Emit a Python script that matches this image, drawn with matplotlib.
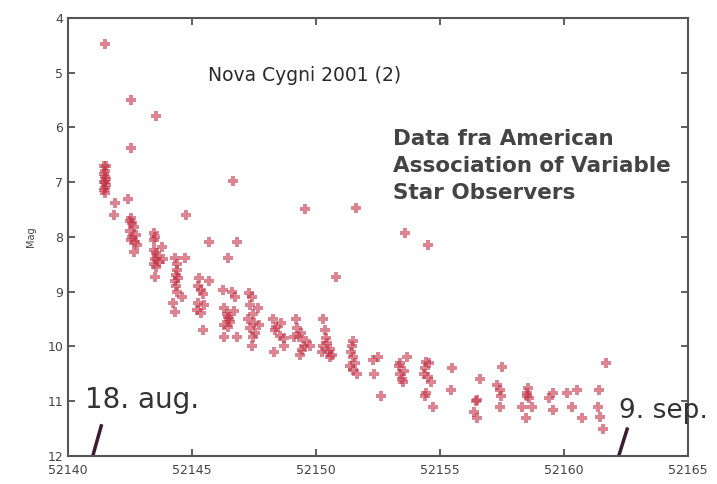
import numpy as np
import matplotlib.pyplot as plt

# Julian dates and visual magnitudes, night by night
jd = [52141.50, 52141.45, 52141.55, 52141.50, 52141.45, 52141.50, 52141.55, 52141.50, 52141.45, 52141.55, 52141.50, 52141.45, 52141.50,
      52141.90, 52141.85, 52142.40, 52142.55, 52142.55,
      52142.55, 52142.60, 52142.65, 52142.50, 52142.75, 52142.60, 52142.55, 52142.70, 52142.80, 52142.65, 52142.50,
      52143.55, 52143.45, 52143.50, 52143.45, 52143.80, 52143.45, 52143.55, 52143.60, 52143.50, 52143.65, 52143.45, 52143.55, 52143.50, 52143.85,
      52144.75, 52144.30, 52144.40, 52144.40, 52144.35, 52144.45, 52144.30, 52144.35, 52144.40, 52144.60, 52144.25, 52144.30, 52144.70,
      52145.70, 52145.30, 52145.70, 52145.25, 52145.35, 52145.45, 52145.25, 52145.50, 52145.20, 52145.35, 52145.45,
      52146.65, 52146.80, 52146.45, 52146.25, 52146.60, 52146.75, 52146.30, 52146.70, 52146.40, 52146.45, 52146.50, 52146.55, 52146.30, 52146.45, 52146.30, 52146.80,
      52147.30, 52147.40, 52147.35, 52147.65, 52147.45, 52147.25, 52147.50, 52147.70, 52147.35, 52147.55, 52147.45, 52147.40,
      52148.25, 52148.60, 52148.40, 52148.35, 52148.55, 52148.70, 52148.70, 52148.30,
      52149.55, 52149.20, 52149.25, 52149.40, 52149.30, 52149.60, 52149.50, 52149.45, 52149.35, 52149.10, 52149.75,
      52150.80, 52150.30, 52150.35, 52150.40, 52150.45, 52150.30, 52150.55, 52150.50, 52150.25, 52150.55, 52150.65,
      52151.60, 52151.50, 52151.45, 52151.40, 52151.50, 52151.55, 52151.35, 52151.50, 52151.65,
      52152.50, 52152.30, 52152.35, 52152.60,
      52153.60, 52153.65, 52153.40, 52153.35, 52153.55, 52153.40, 52153.45, 52153.50,
      52154.50, 52154.45, 52154.55, 52154.40, 52154.35, 52154.50, 52154.65, 52154.45, 52154.40, 52154.70,
      52155.50, 52155.45,
      52156.60, 52156.50, 52156.35, 52156.50, 52156.45,
      52157.50, 52157.30, 52157.40, 52157.45, 52157.40,
      52158.50, 52158.50, 52158.60, 52158.30, 52158.70, 52158.45, 52158.55,
      52159.55, 52159.40, 52159.55,
      52160.10, 52160.50, 52160.30, 52160.70,
      52161.70, 52161.40, 52161.35, 52161.45, 52161.55]
mag = [4.47, 6.70, 6.70, 6.80, 6.85, 6.90, 6.95, 7.00, 7.00, 7.05, 7.10, 7.15, 7.20,
       7.38, 7.60, 7.30, 5.50, 6.37,
       7.65, 7.75, 7.82, 7.90, 7.96, 8.00, 8.05, 8.10, 8.15, 8.27, 7.70,
       5.79, 7.93, 8.00, 8.05, 8.18, 8.24, 8.30, 8.36, 8.40, 8.45, 8.50, 8.55, 8.73, 8.40,
       7.60, 8.38, 8.50, 8.60, 8.70, 8.75, 8.80, 8.90, 9.00, 9.10, 9.20, 9.37, 8.38,
       8.10, 8.75, 8.80, 8.90, 8.97, 9.05, 9.20, 9.25, 9.33, 9.39, 9.70,
       6.98, 8.10, 8.38, 8.97, 9.00, 9.10, 9.30, 9.35, 9.40, 9.46, 9.50, 9.55, 9.60, 9.65, 9.83, 9.83,
       9.03, 9.10, 9.24, 9.30, 9.40, 9.50, 9.57, 9.60, 9.66, 9.75, 9.83, 10.00,
       9.50, 9.57, 9.65, 9.70, 9.80, 9.85, 10.00, 10.10,
       7.49, 9.50, 9.66, 9.75, 9.83, 9.90, 10.00, 10.06, 10.15, 9.83, 10.00,
       8.73, 9.50, 9.70, 9.85, 9.94, 10.00, 10.05, 10.10, 10.10, 10.20, 10.15,
       7.47, 9.90, 10.00, 10.10, 10.20, 10.30, 10.35, 10.43, 10.50,
       10.20, 10.25, 10.50, 10.90,
       7.93, 10.20, 10.30, 10.35, 10.45, 10.50, 10.60, 10.65,
       8.15, 10.28, 10.30, 10.40, 10.50, 10.55, 10.65, 10.85, 10.90, 11.10,
       10.40, 10.80,
       10.60, 10.98, 11.20, 11.30, 11.00,
       10.37, 10.70, 10.80, 10.90, 11.10,
       10.85, 10.90, 10.95, 11.10, 11.10, 11.30, 10.75,
       10.85, 10.95, 11.16,
       10.85, 10.80, 11.10, 11.30,
       10.30, 10.80, 11.10, 11.28, 11.50]

xticks = [52140, 52145, 52150, 52155, 52160, 52165]
yticks = [4, 5, 6, 7, 8, 9, 10, 11, 12]

fig = plt.figure(figsize=(7.17, 4.84), dpi=100)
ax = fig.add_axes([0.0948, 0.0579, 0.865, 0.905])

ax.scatter(jd, mag, marker='P', s=48, color='#c23448', alpha=0.6, linewidths=0, zorder=3)

ax.set_xlim(52140, 52165)
ax.set_ylim(12, 4)
ax.set_xticks(xticks)
ax.set_yticks(yticks)
ax.tick_params(direction='in', top=True, right=True, length=5, width=1.2,
               labelsize=9, colors='#444444', labelcolor='#444444')
ax.tick_params(axis='x', pad=6)
for s in ax.spines.values():
    s.set_color('#555555')
    s.set_linewidth(1.5)
ax.set_ylabel('Mag', fontsize=7, color='#444444', labelpad=8)

ax.text(52145.65, 5.05, 'Nova Cygni 2001 (2)', fontsize=13.5, color='#2a2a2a', va='center')
ax.text(52153.1, 6.02, 'Data fra American\nAssociation of Variable\nStar Observers',
        fontsize=15.5, fontweight='bold', color='#444444', va='top', linespacing=1.45)

# start and end date markers
ax.text(52140.7, 10.98, '18. aug.', fontsize=20, color='#333333', va='center')
ax.plot([52141.0, 52141.36], [12.0, 11.42], color='#3c1c30', lw=2.5, solid_capstyle='butt')
ax.text(52162.22, 11.18, '9. sep.', fontsize=19, color='#333333', va='center', clip_on=False)
ax.plot([52162.2, 52162.56], [12.0, 11.48], color='#3c1c30', lw=2.5, solid_capstyle='butt')

fig.savefig('out.png', dpi=100)
